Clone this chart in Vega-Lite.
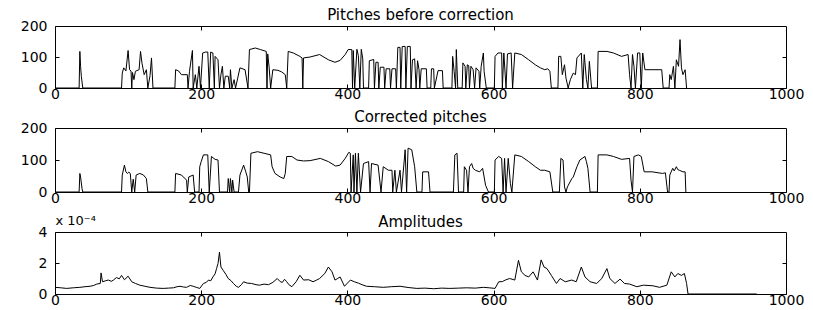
{
  "$schema": "https://vega.github.io/schema/vega-lite/v6.json",
  "background": "white",
  "padding": {"left": 19, "top": 7, "right": 5, "bottom": 0},
  "spacing": 7,
  "config": {
    "view": {"stroke": "black", "strokeWidth": 1},
    "font": "DejaVu Sans",
    "title": {"fontSize": 15, "fontWeight": "normal", "font": "DejaVu Sans", "color": "black", "offset": -4},
    "axis": {"labelFont": "DejaVu Sans", "labelFontSize": 14, "labelColor": "black", "domain": false, "grid": false, "tickColor": "black", "tickSize": -4, "labelFlush": false, "labelOverlap": false}
  },
  "datasets": {
    "before": [
      {"frame":0,"value":0},{"frame":33,"value":0},{"frame":34,"value":118},{"frame":35,"value":70},{"frame":36,"value":38},{"frame":38,"value":0},
      {"frame":91,"value":0},{"frame":92,"value":48},{"frame":94,"value":65},{"frame":97,"value":55},{"frame":100,"value":121},{"frame":102,"value":59},{"frame":104,"value":55},{"frame":105,"value":0},{"frame":106,"value":50},{"frame":108,"value":27},{"frame":110,"value":54},{"frame":115,"value":59},{"frame":117,"value":118},{"frame":119,"value":80},{"frame":122,"value":43},{"frame":125,"value":59},{"frame":127,"value":0},{"frame":130,"value":40},{"frame":132,"value":97},{"frame":134,"value":0},
      {"frame":164,"value":0},{"frame":165,"value":59},{"frame":169,"value":55},{"frame":173,"value":43},{"frame":181,"value":43},{"frame":182,"value":0},{"frame":184,"value":54},{"frame":188,"value":121},{"frame":189,"value":0},{"frame":192,"value":43},{"frame":194,"value":0},{"frame":197,"value":70},{"frame":199,"value":0},{"frame":202,"value":113},{"frame":206,"value":116},{"frame":209,"value":116},{"frame":211,"value":0},{"frame":213,"value":116},{"frame":216,"value":113},{"frame":218,"value":0},{"frame":219,"value":102},{"frame":223,"value":91},{"frame":225,"value":0},{"frame":227,"value":43},{"frame":229,"value":70},{"frame":231,"value":0},{"frame":233,"value":38},{"frame":237,"value":38},{"frame":239,"value":0},{"frame":240,"value":59},{"frame":242,"value":0},{"frame":245,"value":27},{"frame":247,"value":0},{"frame":253,"value":65},{"frame":260,"value":59},{"frame":264,"value":0},
      {"frame":266,"value":124},{"frame":274,"value":129},{"frame":281,"value":124},{"frame":289,"value":118},{"frame":290,"value":0},{"frame":291,"value":110},{"frame":293,"value":65},{"frame":295,"value":0},{"frame":298,"value":59},{"frame":305,"value":57},{"frame":310,"value":52},{"frame":315,"value":43},{"frame":317,"value":0},
      {"frame":319,"value":118},{"frame":326,"value":113},{"frame":335,"value":102},{"frame":338,"value":97},{"frame":339,"value":0},{"frame":340,"value":97},{"frame":349,"value":100},{"frame":362,"value":108},{"frame":374,"value":91},{"frame":383,"value":83},{"frame":390,"value":89},{"frame":397,"value":108},{"frame":401,"value":124},{"frame":406,"value":124},{"frame":407,"value":0},{"frame":408,"value":121},{"frame":410,"value":0},{"frame":413,"value":125},{"frame":415,"value":104},{"frame":417,"value":0},{"frame":419,"value":125},{"frame":421,"value":94},{"frame":422,"value":0},{"frame":429,"value":0},{"frame":430,"value":88},{"frame":436,"value":92},{"frame":437,"value":0},{"frame":439,"value":83},{"frame":442,"value":83},{"frame":443,"value":0},{"frame":445,"value":67},{"frame":450,"value":67},{"frame":451,"value":0},{"frame":453,"value":62},{"frame":458,"value":62},{"frame":459,"value":0},{"frame":461,"value":62},{"frame":466,"value":62},{"frame":467,"value":0},{"frame":469,"value":131},{"frame":472,"value":131},{"frame":473,"value":0},{"frame":475,"value":134},{"frame":479,"value":134},{"frame":480,"value":0},{"frame":482,"value":134},{"frame":486,"value":134},{"frame":487,"value":0},{"frame":489,"value":91},{"frame":492,"value":94},{"frame":494,"value":0},{"frame":496,"value":88},{"frame":498,"value":59},{"frame":499,"value":0},{"frame":501,"value":62},{"frame":508,"value":62},{"frame":509,"value":0},{"frame":514,"value":0},{"frame":515,"value":62},{"frame":518,"value":62},{"frame":519,"value":0},{"frame":524,"value":56},{"frame":530,"value":56},{"frame":531,"value":0},
      {"frame":543,"value":0},{"frame":544,"value":102},{"frame":546,"value":54},{"frame":548,"value":0},{"frame":549,"value":124},{"frame":551,"value":0},{"frame":557,"value":0},{"frame":558,"value":81},{"frame":561,"value":70},{"frame":562,"value":0},{"frame":564,"value":75},{"frame":566,"value":72},{"frame":567,"value":0},{"frame":569,"value":70},{"frame":572,"value":59},{"frame":574,"value":0},{"frame":576,"value":65},{"frame":580,"value":54},{"frame":581,"value":0},{"frame":583,"value":70},{"frame":586,"value":113},{"frame":587,"value":54},{"frame":590,"value":0},
      {"frame":601,"value":0},{"frame":602,"value":102},{"frame":606,"value":113},{"frame":611,"value":113},{"frame":612,"value":0},{"frame":614,"value":113},{"frame":617,"value":0},{"frame":619,"value":110},{"frame":624,"value":113},{"frame":626,"value":0},{"frame":629,"value":113},{"frame":638,"value":108},{"frame":648,"value":91},{"frame":657,"value":75},{"frame":664,"value":65},{"frame":670,"value":59},{"frame":674,"value":62},{"frame":677,"value":54},{"frame":679,"value":0},
      {"frame":688,"value":0},{"frame":689,"value":102},{"frame":692,"value":102},{"frame":694,"value":43},{"frame":697,"value":75},{"frame":699,"value":32},{"frame":702,"value":0},{"frame":705,"value":27},{"frame":709,"value":48},{"frame":712,"value":43},{"frame":714,"value":97},{"frame":720,"value":113},{"frame":722,"value":0},{"frame":724,"value":108},{"frame":727,"value":27},{"frame":729,"value":0},{"frame":731,"value":86},{"frame":734,"value":0},
      {"frame":742,"value":0},{"frame":743,"value":118},{"frame":755,"value":118},{"frame":764,"value":113},{"frame":775,"value":102},{"frame":784,"value":108},{"frame":786,"value":43},{"frame":788,"value":0},{"frame":790,"value":108},{"frame":792,"value":70},{"frame":794,"value":0},{"frame":797,"value":113},{"frame":800,"value":113},{"frame":802,"value":0},{"frame":804,"value":113},{"frame":807,"value":59},{"frame":818,"value":59},{"frame":830,"value":59},{"frame":832,"value":0},{"frame":840,"value":0},{"frame":841,"value":43},{"frame":843,"value":27},{"frame":846,"value":70},{"frame":848,"value":0},{"frame":850,"value":91},{"frame":853,"value":70},{"frame":855,"value":156},{"frame":857,"value":65},{"frame":859,"value":43},{"frame":862,"value":59},{"frame":864,"value":0}
    ],
    "corrected": [
      {"frame":0,"value":0},{"frame":33,"value":0},{"frame":34,"value":58},{"frame":35,"value":47},{"frame":37,"value":10},{"frame":38,"value":0},
      {"frame":91,"value":0},{"frame":92,"value":53},{"frame":95,"value":84},{"frame":97,"value":63},{"frame":99,"value":58},{"frame":101,"value":62},{"frame":103,"value":58},{"frame":105,"value":0},{"frame":107,"value":40},{"frame":109,"value":0},{"frame":111,"value":53},{"frame":116,"value":58},{"frame":121,"value":53},{"frame":125,"value":42},{"frame":127,"value":0},
      {"frame":164,"value":0},{"frame":165,"value":58},{"frame":173,"value":53},{"frame":180,"value":37},{"frame":181,"value":0},{"frame":183,"value":47},{"frame":189,"value":53},{"frame":191,"value":0},{"frame":197,"value":0},{"frame":198,"value":79},{"frame":200,"value":95},{"frame":203,"value":116},{"frame":209,"value":116},{"frame":211,"value":0},{"frame":214,"value":111},{"frame":219,"value":102},{"frame":223,"value":100},{"frame":225,"value":0},
      {"frame":236,"value":0},{"frame":237,"value":42},{"frame":239,"value":0},{"frame":240,"value":42},{"frame":242,"value":0},{"frame":243,"value":37},{"frame":245,"value":0},
      {"frame":251,"value":0},{"frame":253,"value":53},{"frame":258,"value":84},{"frame":261,"value":63},{"frame":263,"value":47},{"frame":265,"value":0},
      {"frame":266,"value":0},{"frame":268,"value":121},{"frame":277,"value":126},{"frame":286,"value":121},{"frame":295,"value":116},{"frame":297,"value":79},{"frame":301,"value":58},{"frame":308,"value":47},{"frame":313,"value":42},{"frame":315,"value":58},{"frame":317,"value":111},{"frame":324,"value":111},{"frame":331,"value":100},{"frame":340,"value":97},{"frame":349,"value":98},{"frame":363,"value":105},{"frame":374,"value":95},{"frame":384,"value":81},{"frame":390,"value":84},{"frame":397,"value":105},{"frame":402,"value":124},{"frame":404,"value":121},{"frame":405,"value":0},{"frame":408,"value":116},{"frame":409,"value":0},{"frame":411,"value":121},{"frame":413,"value":0},{"frame":415,"value":121},{"frame":418,"value":0},{"frame":422,"value":89},{"frame":429,"value":95},{"frame":431,"value":0},{"frame":433,"value":89},{"frame":442,"value":84},{"frame":446,"value":0},{"frame":449,"value":79},{"frame":456,"value":68},{"frame":461,"value":68},{"frame":462,"value":0},{"frame":465,"value":68},{"frame":467,"value":0},{"frame":472,"value":68},{"frame":474,"value":0},{"frame":479,"value":132},{"frame":481,"value":0},{"frame":483,"value":137},{"frame":488,"value":132},{"frame":492,"value":79},{"frame":495,"value":0},
      {"frame":502,"value":0},{"frame":503,"value":63},{"frame":511,"value":63},{"frame":513,"value":0},
      {"frame":545,"value":0},{"frame":547,"value":116},{"frame":550,"value":121},{"frame":552,"value":0},
      {"frame":559,"value":0},{"frame":560,"value":79},{"frame":563,"value":68},{"frame":565,"value":0},{"frame":567,"value":79},{"frame":570,"value":89},{"frame":572,"value":74},{"frame":575,"value":68},{"frame":581,"value":63},{"frame":585,"value":74},{"frame":589,"value":21},{"frame":593,"value":0},
      {"frame":601,"value":0},{"frame":602,"value":100},{"frame":607,"value":111},{"frame":611,"value":105},{"frame":613,"value":0},{"frame":615,"value":105},{"frame":617,"value":0},{"frame":620,"value":105},{"frame":623,"value":26},{"frame":625,"value":0},{"frame":629,"value":116},{"frame":638,"value":111},{"frame":648,"value":95},{"frame":657,"value":79},{"frame":664,"value":68},{"frame":670,"value":68},{"frame":677,"value":63},{"frame":681,"value":0},
      {"frame":690,"value":0},{"frame":692,"value":105},{"frame":695,"value":100},{"frame":697,"value":16},{"frame":699,"value":0},{"frame":701,"value":16},{"frame":707,"value":42},{"frame":709,"value":47},{"frame":714,"value":79},{"frame":718,"value":100},{"frame":725,"value":111},{"frame":727,"value":95},{"frame":729,"value":74},{"frame":732,"value":0},
      {"frame":742,"value":0},{"frame":743,"value":116},{"frame":755,"value":116},{"frame":764,"value":111},{"frame":775,"value":102},{"frame":786,"value":105},{"frame":788,"value":37},{"frame":790,"value":0},{"frame":792,"value":111},{"frame":798,"value":116},{"frame":802,"value":111},{"frame":806,"value":63},{"frame":817,"value":63},{"frame":831,"value":58},{"frame":835,"value":60},{"frame":838,"value":0},{"frame":840,"value":0},{"frame":841,"value":53},{"frame":845,"value":74},{"frame":847,"value":66},{"frame":850,"value":79},{"frame":852,"value":70},{"frame":854,"value":68},{"frame":859,"value":63},{"frame":862,"value":63},{"frame":863,"value":0}
    ],
    "amplitude": [
      {"frame":0,"value":0.43e-4},{"frame":8,"value":0.4e-4},{"frame":16,"value":0.36e-4},{"frame":25,"value":0.4e-4},{"frame":34,"value":0.43e-4},{"frame":41,"value":0.47e-4},{"frame":48,"value":0.5e-4},{"frame":53,"value":0.55e-4},{"frame":57,"value":0.64e-4},{"frame":62,"value":0.68e-4},{"frame":63,"value":1.36e-4},{"frame":65,"value":0.79e-4},{"frame":69,"value":0.85e-4},{"frame":73,"value":0.9e-4},{"frame":77,"value":0.82e-4},{"frame":80,"value":0.9e-4},{"frame":84,"value":1.06e-4},{"frame":88,"value":0.98e-4},{"frame":91,"value":1.2e-4},{"frame":95,"value":0.92e-4},{"frame":100,"value":1.15e-4},{"frame":105,"value":0.79e-4},{"frame":110,"value":0.68e-4},{"frame":116,"value":0.57e-4},{"frame":123,"value":0.5e-4},{"frame":130,"value":0.43e-4},{"frame":139,"value":0.38e-4},{"frame":148,"value":0.36e-4},{"frame":155,"value":0.38e-4},{"frame":162,"value":0.4e-4},{"frame":167,"value":0.47e-4},{"frame":171,"value":0.5e-4},{"frame":176,"value":0.45e-4},{"frame":180,"value":0.43e-4},{"frame":185,"value":0.55e-4},{"frame":189,"value":0.5e-4},{"frame":194,"value":0.42e-4},{"frame":198,"value":0.36e-4},{"frame":203,"value":0.68e-4},{"frame":207,"value":0.75e-4},{"frame":210,"value":0.9e-4},{"frame":213,"value":0.85e-4},{"frame":216,"value":1.1e-4},{"frame":219,"value":1.3e-4},{"frame":221,"value":1.64e-4},{"frame":223,"value":1.96e-4},{"frame":225,"value":2.7e-4},{"frame":227,"value":1.74e-4},{"frame":230,"value":1.53e-4},{"frame":234,"value":1.25e-4},{"frame":237,"value":1.0e-4},{"frame":241,"value":0.85e-4},{"frame":244,"value":0.68e-4},{"frame":248,"value":0.5e-4},{"frame":251,"value":0.43e-4},{"frame":255,"value":0.6e-4},{"frame":258,"value":0.79e-4},{"frame":263,"value":0.7e-4},{"frame":269,"value":0.68e-4},{"frame":275,"value":0.6e-4},{"frame":280,"value":0.57e-4},{"frame":286,"value":0.64e-4},{"frame":292,"value":0.6e-4},{"frame":298,"value":0.75e-4},{"frame":304,"value":1.0e-4},{"frame":308,"value":0.8e-4},{"frame":311,"value":0.75e-4},{"frame":314,"value":0.95e-4},{"frame":317,"value":0.79e-4},{"frame":320,"value":0.6e-4},{"frame":324,"value":0.47e-4},{"frame":330,"value":0.8e-4},{"frame":335,"value":1.21e-4},{"frame":340,"value":0.9e-4},{"frame":347,"value":0.92e-4},{"frame":353,"value":0.79e-4},{"frame":358,"value":0.9e-4},{"frame":362,"value":1.0e-4},{"frame":369,"value":1.32e-4},{"frame":374,"value":1.74e-4},{"frame":379,"value":1.43e-4},{"frame":383,"value":0.9e-4},{"frame":386,"value":0.98e-4},{"frame":390,"value":1.1e-4},{"frame":396,"value":0.5e-4},{"frame":404,"value":0.9e-4},{"frame":410,"value":0.78e-4},{"frame":415,"value":0.7e-4},{"frame":420,"value":0.6e-4},{"frame":426,"value":0.5e-4},{"frame":437,"value":0.47e-4},{"frame":449,"value":0.43e-4},{"frame":460,"value":0.47e-4},{"frame":472,"value":0.5e-4},{"frame":483,"value":0.42e-4},{"frame":495,"value":0.36e-4},{"frame":506,"value":0.38e-4},{"frame":518,"value":0.34e-4},{"frame":529,"value":0.38e-4},{"frame":540,"value":0.36e-4},{"frame":552,"value":0.38e-4},{"frame":563,"value":0.4e-4},{"frame":575,"value":0.38e-4},{"frame":586,"value":0.43e-4},{"frame":594,"value":0.4e-4},{"frame":602,"value":0.36e-4},{"frame":607,"value":0.79e-4},{"frame":612,"value":0.8e-4},{"frame":616,"value":0.9e-4},{"frame":622,"value":1.0e-4},{"frame":629,"value":0.9e-4},{"frame":634,"value":2.17e-4},{"frame":638,"value":1.43e-4},{"frame":643,"value":1.2e-4},{"frame":648,"value":1.1e-4},{"frame":654,"value":1.43e-4},{"frame":660,"value":0.9e-4},{"frame":665,"value":2.2e-4},{"frame":669,"value":1.74e-4},{"frame":673,"value":1.64e-4},{"frame":679,"value":1.2e-4},{"frame":686,"value":0.68e-4},{"frame":691,"value":1.0e-4},{"frame":698,"value":0.79e-4},{"frame":707,"value":0.9e-4},{"frame":713,"value":0.79e-4},{"frame":720,"value":1.74e-4},{"frame":725,"value":1.1e-4},{"frame":732,"value":0.79e-4},{"frame":741,"value":0.68e-4},{"frame":748,"value":1.0e-4},{"frame":755,"value":1.64e-4},{"frame":759,"value":1.0e-4},{"frame":766,"value":0.68e-4},{"frame":773,"value":0.96e-4},{"frame":779,"value":0.68e-4},{"frame":786,"value":0.64e-4},{"frame":796,"value":0.47e-4},{"frame":805,"value":0.57e-4},{"frame":818,"value":0.53e-4},{"frame":827,"value":0.43e-4},{"frame":837,"value":0.57e-4},{"frame":843,"value":1.43e-4},{"frame":848,"value":1.1e-4},{"frame":852,"value":1.32e-4},{"frame":857,"value":1.2e-4},{"frame":861,"value":1.32e-4},{"frame":864,"value":0.68e-4},{"frame":866,"value":0},{"frame":960,"value":0}
    ]
  },
  "vconcat": [
    {
      "title": "Pitches before correction",
      "width": 731, "height": 62,
      "layer": [
        {
          "data": {"name": "before"},
          "mark": {"type": "line", "color": "black", "strokeWidth": 1, "clip": true},
          "encoding": {
            "x": {"field": "frame", "type": "quantitative", "scale": {"domain": [0, 1000], "nice": false}, "axis": {"values": [0, 200, 400, 600, 800, 1000], "format": "d", "labelPadding": 3, "title": null}},
            "y": {"field": "value", "type": "quantitative", "scale": {"domain": [0, 200], "nice": false}, "axis": {"values": [0, 100, 200], "labelPadding": 12, "title": null}}
          }
        },
        {
          "data": {"values": [{"frame": 0, "value": 0}]},
          "mark": {"type": "point", "opacity": 0},
          "encoding": {
            "x": {"field": "frame", "type": "quantitative", "scale": {"domain": [0, 1000], "nice": false}, "axis": {"orient": "top", "values": [200, 400, 600, 800], "labels": false, "title": null}},
            "y": {"field": "value", "type": "quantitative", "scale": {"domain": [0, 200], "nice": false}, "axis": {"orient": "right", "values": [100], "labels": false, "title": null}}
          }
        }
      ],
      "resolve": {"axis": {"x": "independent", "y": "independent"}}
    },
    {
      "title": "Corrected pitches",
      "width": 731, "height": 64,
      "layer": [
        {
          "data": {"name": "corrected"},
          "mark": {"type": "line", "color": "black", "strokeWidth": 1, "clip": true},
          "encoding": {
            "x": {"field": "frame", "type": "quantitative", "scale": {"domain": [0, 1000], "nice": false}, "axis": {"values": [0, 200, 400, 600, 800, 1000], "format": "d", "labelPadding": 3, "title": null}},
            "y": {"field": "value", "type": "quantitative", "scale": {"domain": [0, 200], "nice": false}, "axis": {"values": [0, 100, 200], "labelPadding": 12, "title": null}}
          }
        },
        {
          "data": {"values": [{"frame": 0, "value": 0}]},
          "mark": {"type": "point", "opacity": 0},
          "encoding": {
            "x": {"field": "frame", "type": "quantitative", "scale": {"domain": [0, 1000], "nice": false}, "axis": {"orient": "top", "values": [200, 400, 600, 800], "labels": false, "title": null}},
            "y": {"field": "value", "type": "quantitative", "scale": {"domain": [0, 200], "nice": false}, "axis": {"orient": "right", "values": [100], "labels": false, "title": null}}
          }
        }
      ],
      "resolve": {"axis": {"x": "independent", "y": "independent"}}
    },
    {
      "title": {"text": "Amplitudes", "offset": -16},
      "width": 731, "height": 62,
      "layer": [
        {
          "data": {"name": "amplitude"},
          "mark": {"type": "line", "color": "black", "strokeWidth": 1, "clip": true},
          "encoding": {
            "x": {"field": "frame", "type": "quantitative", "scale": {"domain": [0, 1000], "nice": false}, "axis": {"values": [0, 200, 400, 600, 800, 1000], "format": "d", "labelPadding": 3, "title": null}},
            "y": {"field": "value", "type": "quantitative", "scale": {"domain": [0, 0.0004], "nice": false}, "axis": {"values": [0, 0.0002, 0.0004], "labelExpr": "format(datum.value * 10000, 'd')", "labelPadding": 12, "title": "x 10⁻⁴", "titleAngle": 0, "titleX": 0, "titleY": -8, "titleAlign": "left", "titleBaseline": "alphabetic", "titleFontSize": 13, "titleFontWeight": "normal", "titleFont": "DejaVu Sans", "titleColor": "black"}}
          }
        },
        {
          "data": {"values": [{"frame": 0, "value": 0}]},
          "mark": {"type": "point", "opacity": 0},
          "encoding": {
            "x": {"field": "frame", "type": "quantitative", "scale": {"domain": [0, 1000], "nice": false}, "axis": {"orient": "top", "values": [200, 400, 600, 800], "labels": false, "title": null}},
            "y": {"field": "value", "type": "quantitative", "scale": {"domain": [0, 0.0004], "nice": false}, "axis": {"orient": "right", "values": [0.0002], "labels": false, "title": null}}
          }
        }
      ],
      "resolve": {"axis": {"x": "independent", "y": "independent"}}
    }
  ]
}
